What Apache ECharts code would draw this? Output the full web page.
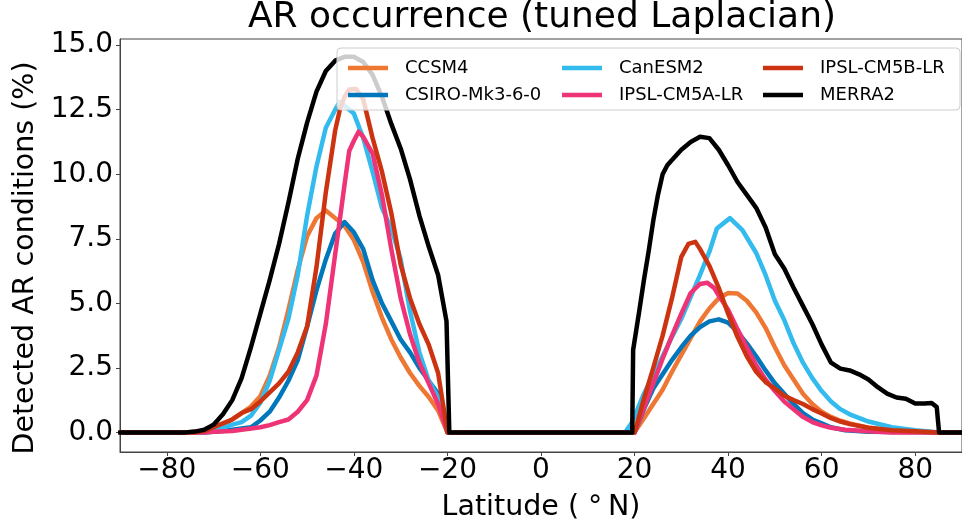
<!DOCTYPE html>
<html>
<head>
<meta charset="utf-8">
<script src="https://cdn.jsdelivr.net/npm/echarts@6/dist/echarts.min.js"></script>
<style>
  html, body { margin: 0; padding: 0; background: #fff; }
  #chart { width: 962px; height: 527px; }
</style>
</head>
<body>
<div id="chart"></div>
<script>
// Zonal-mean AR occurrence (%) by latitude for each model and the MERRA2 reanalysis.
const seriesNames = ['CCSM4', 'CSIRO-Mk3-6-0', 'CanESM2', 'IPSL-CM5A-LR', 'IPSL-CM5B-LR', 'MERRA2'];
const seriesColors = ['#EE7733', '#0077BB', '#33BBEE', '#EE3377', '#CC3311', '#000000'];

const latCCSM4 = [-90, -76, -72, -70, -68, -66, -64, -62, -60, -58, -56, -54, -52, -50, -48, -46, -44, -42, -40, -38, -36, -34, -32, -30, -28, -26, -24, -22, -20,
  20, 22, 24, 26, 28, 30, 32, 34, 36, 38, 40, 42, 44, 46, 48, 50, 52, 54, 56, 58, 60, 62, 64, 66, 70, 75, 80, 85, 90];
const valCCSM4 = [0, 0, 0.05, 0.15, 0.3, 0.5, 0.75, 1.0, 1.4, 2.2, 3.3, 4.75, 6.3, 7.6, 8.3, 8.6, 8.3, 8.0, 7.45, 6.6, 5.45, 4.45, 3.6, 2.9, 2.3, 1.8, 1.37, 0.85, 0,
  0, 0.55, 1.1, 1.65, 2.35, 3.0, 3.65, 4.3, 4.8, 5.2, 5.4, 5.38, 5.1, 4.65, 4.05, 3.3, 2.6, 2.05, 1.5, 1.1, 0.8, 0.6, 0.45, 0.35, 0.18, 0.08, 0.03, 0, 0];

const latCSIRO = [-90, -72, -70, -68, -66, -64, -62, -60, -58, -56, -54, -52, -50, -48, -46, -44, -42, -40, -38, -36, -34, -32, -30, -28, -26, -24, -22, -20,
  20, 22, 24, 26, 28, 30, 32, 34, 36, 38, 40, 42, 44, 46, 48, 50, 52, 54, 56, 58, 60, 62, 65, 70, 90];
const valCSIRO = [0, 0, 0.02, 0.05, 0.1, 0.15, 0.2, 0.46, 0.8, 1.35, 2.0, 2.8, 4.1, 5.5, 6.7, 7.7, 8.15, 7.75, 7.1, 5.9, 5.0, 4.3, 3.6, 3.1, 2.5, 2.0, 1.5, 0,
  0, 0.9, 1.7, 2.25, 2.8, 3.3, 3.75, 4.08, 4.3, 4.38, 4.25, 3.9, 3.45, 2.95, 2.4, 1.9, 1.5, 1.1, 0.75, 0.5, 0.35, 0.2, 0.08, 0.02, 0];

const latCanESM2 = [-90, -74, -72, -70, -68, -66, -64, -62, -60, -58, -56, -54, -52, -50, -48, -46, -44, -43, -42, -40, -38, -36, -34, -32, -30, -28, -26, -24, -22, -20,
  18, 19.5, 22, 24, 26, 28, 30, 32, 34, 36, 37.6, 40.4, 43, 46, 48, 50, 52, 54, 56, 58, 60, 62, 64, 66, 70, 75, 80, 85, 90];
const valCanESM2 = [0, 0, 0.03, 0.08, 0.18, 0.3, 0.4, 0.65, 1.15, 2.0, 3.2, 4.4, 6.1, 8.4, 10.3, 11.8, 12.5, 12.8, 12.65, 12.35, 11.4, 10.1, 8.7, 7.9, 6.7, 4.7, 3.1, 2.0, 1.37, 0,
  0, 0.4, 1.5, 2.2, 2.95, 3.7, 4.4, 5.25, 6.1, 7.0, 7.9, 8.3, 7.85, 6.95, 6.1, 5.1, 4.35, 3.45, 2.7, 2.1, 1.6, 1.2, 0.9, 0.7, 0.42, 0.2, 0.08, 0, 0];

const latCM5A = [-90, -72, -70, -66, -62, -60, -58, -56, -54, -52, -50, -48, -46, -44, -42, -41, -40, -39, -38, -36, -34, -32, -30, -28, -26, -24, -22, -20,
  20, 22, 24, 26, 28, 30, 32, 34, 35.5, 37, 38, 40, 42, 44, 46, 48, 50, 52, 54, 56, 58, 60, 62, 65, 70, 75, 90];
const valCM5A = [0, 0, 0.02, 0.05, 0.15, 0.2, 0.28, 0.4, 0.5, 0.8, 1.25, 2.2, 4.2, 6.9, 9.6, 10.9, 11.3, 11.65, 11.45, 10.8, 9.2, 7.1, 5.2, 3.8, 2.7, 1.9, 1.1, 0,
  0, 0.95, 1.9, 2.85, 3.75, 4.6, 5.4, 5.75, 5.8, 5.6, 5.3, 4.75, 4.0, 3.3, 2.6, 2.05, 1.6, 1.2, 0.9, 0.6, 0.4, 0.27, 0.18, 0.1, 0.04, 0, 0];

const latCM5B = [-90, -74, -72, -70, -68, -66, -64, -62, -60, -58, -56, -54, -52, -50, -48, -46, -44, -43, -42, -41, -39.5, -38, -36, -34, -32, -30, -28, -26, -24, -22, -20,
  20, 22, 24, 26, 28, 30, 31.5, 33, 34, 36, 38, 40, 42, 44, 46, 48, 50, 52, 54, 56, 58, 60, 62, 64, 66, 70, 75, 80, 85, 90];
const valCM5B = [0, 0, 0.05, 0.2, 0.35, 0.5, 0.75, 0.9, 1.2, 1.55, 1.9, 2.35, 3.1, 4.1, 6.4, 9.3, 11.7, 12.5, 13.0, 13.28, 13.3, 12.9, 11.4, 10.1, 8.5, 6.5, 5.2, 4.2, 3.4, 2.3, 0,
  0, 1.3, 2.5, 3.75, 5.2, 6.8, 7.3, 7.38, 7.1, 6.45, 5.6, 4.6, 3.7, 2.95, 2.35, 1.95, 1.7, 1.42, 1.25, 1.1, 0.9, 0.73, 0.55, 0.42, 0.32, 0.18, 0.08, 0.04, 0, 0];

const latMERRA2 = [-90, -76, -74, -72, -70, -68, -66, -64, -62, -60, -58, -56, -54, -52, -50, -48, -46, -44, -42, -40, -38, -36, -34, -32, -30, -28, -26, -24, -22, -20.2, -19.6,
  19.5, 19.7, 21, 22, 23, 24, 25, 26, 27, 28, 30, 32, 34, 36, 38, 40, 42, 44, 46, 48, 50, 52, 54, 56, 58, 60, 62, 64, 66, 68, 70, 72, 74, 76, 78, 80, 82, 83.5, 84.6, 85.1, 90];
const valMERRA2 = [0, 0, 0.03, 0.1, 0.3, 0.7, 1.25, 2.1, 3.3, 4.6, 5.9, 7.3, 8.9, 10.6, 12.0, 13.2, 14.0, 14.4, 14.55, 14.55, 14.35, 13.85, 13.0, 11.95, 11.0, 9.8, 8.4, 7.2, 6.1, 4.3, 0,
  0, 3.2, 4.7, 5.9, 7.0, 8.2, 9.2, 10.0, 10.35, 10.55, 10.95, 11.25, 11.45, 11.4, 10.95, 10.35, 9.7, 9.2, 8.7, 7.95, 6.9, 6.35, 5.6, 4.9, 4.2, 3.4, 2.7, 2.47, 2.4, 2.25, 2.05, 1.75, 1.5, 1.35, 1.3, 1.12, 1.12, 1.14, 0.98, 0, 0];

const seriesLats = [latCCSM4, latCSIRO, latCanESM2, latCM5A, latCM5B, latMERRA2];
const seriesVals = [valCCSM4, valCSIRO, valCanESM2, valCM5A, valCM5B, valMERRA2];

const xTicks = [-80, -60, -40, -20, 0, 20, 40, 60, 80];
const yTicks = [0, 2.5, 5, 7.5, 10, 12.5, 15];

const FONT = 'DejaVu Sans';
const AXIS_COLOR = '#444';

const chart = echarts.init(document.getElementById('chart'), null, { renderer: 'canvas' });

const series = seriesNames.map((name, i) => ({
  name: name,
  type: 'line',
  data: seriesLats[i].map((lat, k) => [lat, seriesVals[i][k]]),
  showSymbol: false,
  symbol: 'none',
  color: seriesColors[i],
  lineStyle: { width: 4.5, color: seriesColors[i], cap: 'round', join: 'round' },
  emphasis: { disabled: true },
  z: 2
}));

function legendColumn(names, left) {
  return {
    data: names,
    orient: 'vertical',
    left: left,
    top: 54,
    itemWidth: 40,
    itemHeight: 4.5,
    itemGap: 9,
    icon: 'rect',
    selectedMode: false,
    textStyle: { fontFamily: FONT, fontSize: 18, color: '#000', padding: [0, 0, 0, 12] },
    z: 10
  };
}

chart.setOption({
  animation: false,
  backgroundColor: '#fff',
  title: {
    text: 'AR occurrence (tuned Laplacian)',
    left: 542,
    top: 0,
    padding: 0,
    textAlign: 'center',
    textStyle: { fontFamily: FONT, fontSize: 36, fontWeight: 'normal', color: '#000' }
  },
  grid: {
    left: 120, top: 39, width: 847, height: 413,
    show: true, borderColor: AXIS_COLOR, borderWidth: 1, backgroundColor: 'transparent'
  },
  legend: [
    legendColumn(['CCSM4', 'CSIRO-Mk3-6-0'], 343),
    legendColumn(['CanESM2', 'IPSL-CM5A-LR'], 557),
    legendColumn(['IPSL-CM5B-LR', 'MERRA2'], 758)
  ],
  graphic: [{
    type: 'rect',
    shape: { x: 337, y: 48, width: 623, height: 62, r: 4 },
    style: { fill: 'rgba(255,255,255,0.8)', stroke: '#cccccc', lineWidth: 1 },
    z: 5,
    silent: true
  }],
  xAxis: {
    type: 'value',
    min: -90,
    max: 90,
    name: 'Latitude ( °\u2009N)',
    nameLocation: 'middle',
    nameGap: 41,
    nameTextStyle: { fontFamily: FONT, fontSize: 28.5, color: '#000' },
    axisLine: { show: true, onZero: false, lineStyle: { color: AXIS_COLOR, width: 1 } },
    axisTick: { show: true, length: 4, customValues: xTicks, lineStyle: { color: AXIS_COLOR } },
    axisLabel: {
      customValues: xTicks,
      margin: 5,
      fontFamily: FONT, fontSize: 28, color: '#000',
      formatter: v => (v < 0 ? '\u2212' + Math.abs(v) : String(v))
    },
    splitLine: { show: false }
  },
  yAxis: {
    type: 'value',
    min: -0.76,
    max: 15.24,
    name: 'Detected AR conditions (%)',
    nameLocation: 'middle',
    nameGap: 76,
    nameTextStyle: { fontFamily: FONT, fontSize: 28.5, color: '#000', padding: [0, 25, 0, 0] },
    axisLine: { show: true, onZero: false, lineStyle: { color: AXIS_COLOR, width: 1 } },
    axisTick: { show: true, length: 4, customValues: yTicks, lineStyle: { color: AXIS_COLOR } },
    axisLabel: {
      customValues: yTicks,
      margin: 7,
      fontFamily: FONT, fontSize: 28, color: '#000',
      formatter: v => v.toFixed(1)
    },
    splitLine: { show: false }
  },
  series: series
});
</script>
</body>
</html>
